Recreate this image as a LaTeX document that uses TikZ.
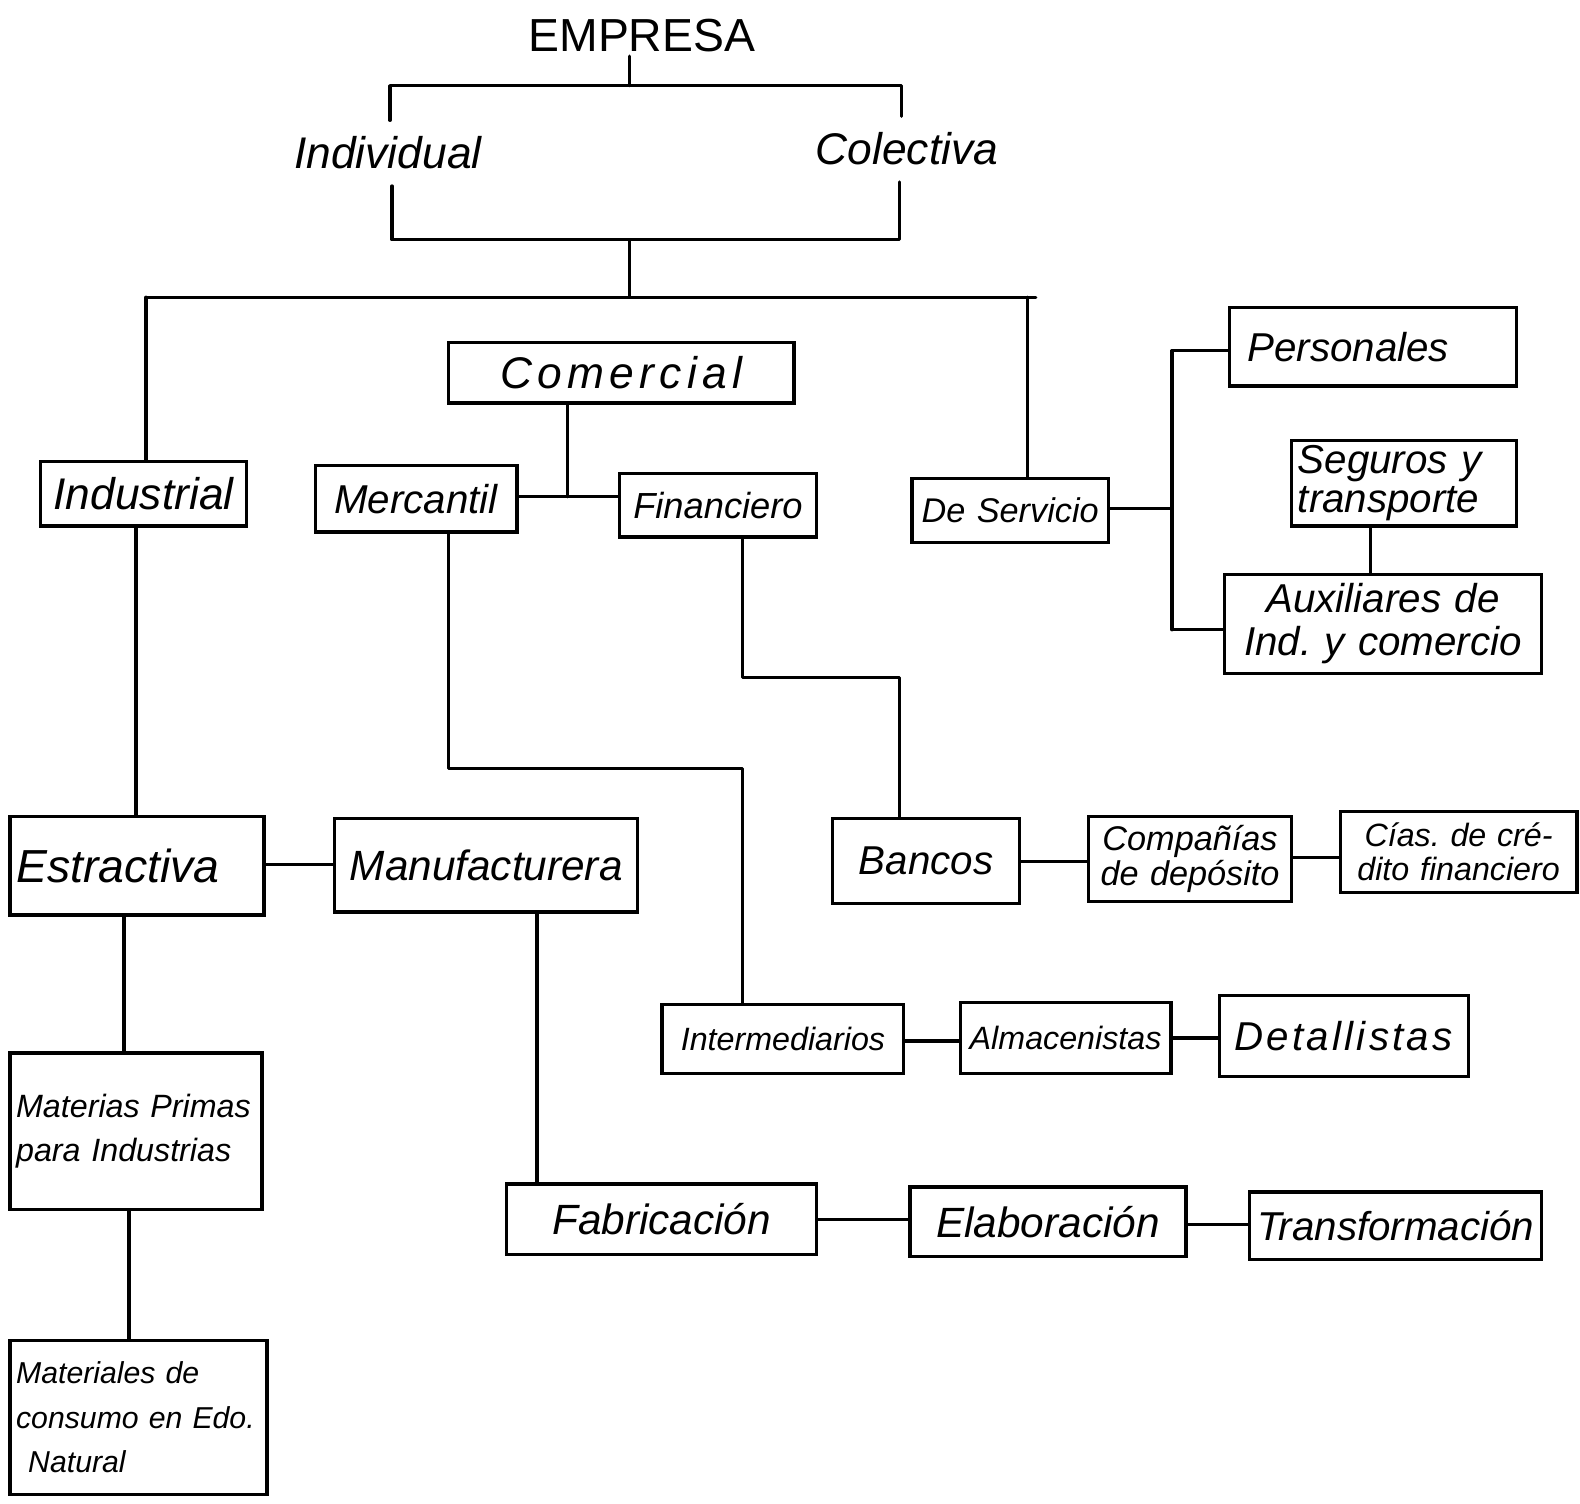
\documentclass[tikz,border=0pt]{standalone}
\usepackage{fontspec}
\setmainfont{Liberation Sans}
\frenchspacing
\newcommand\bx[7][]{\node[box,#1,text width={(#5-#3)*0.5pt-6pt},minimum height={(#6-#4)*0.5pt}] (#2) at ({(#3+#5)/2},{(#4+#6)/2}) {#7};}
\begin{document}
\begin{tikzpicture}[x=0.5pt,y=-0.5pt,
  ln/.style={line width=1.6pt, line cap=round, line join=round},
  box/.style={draw, line width=1.6pt, rectangle, inner xsep=3pt, inner ysep=0pt, align=center},
  fs/.style 2 args={font=\itshape\frenchspacing\fontsize{#1}{#2}\selectfont}]
\useasboundingbox (0,0) rectangle (1568,1492);

% title and first level
\node[font=\fontsize{23}{26}\selectfont, inner sep=2pt] (emp) at (637,35) {EMPRESA};
\node[fs={22}{24}, inner xsep=2pt, inner ysep=8pt] (indiv) at (385,152) {Individual};
\node[fs={22}{24}, inner xsep=2pt, inner ysep=8pt] (colec) at (900,148) {Colectiva};

% boxes
\bx[fs={22}{24}]{ind}{40}{458}{245}{522}{Industrial}
\bx[fs={22}{24}]{com}{445}{340}{788}{400}{{\addfontfeature{LetterSpace=12}Comercial}}
\bx[fs={20}{22}]{merc}{313}{462}{513}{528}{Mercantil}
\bx[fs={18}{20}]{fin}{615}{470}{810}{533}{Financiero}
\bx[fs={17}{19}]{serv}{905}{475}{1100}{538}{De Servicio}
\bx[fs={20}{22},align=left]{pers}{1220}{305}{1505}{383}{\hspace{6pt}Personales}
\bx[fs={20}{19},align=left]{seg}{1282}{437}{1505}{522}{Seguros y\\transporte}
\bx[fs={20}{21}]{aux}{1215}{570}{1530}{668}{Auxiliares de\\Ind. y comercio}
\bx[fs={23}{25},align=left]{estr}{10}{810}{262}{908}{Estractiva}
\bx[fs={21}{23}]{manu}{332}{812}{633}{905}{Manufacturera}
\bx[fs={20}{22}]{banc}{826}{812}{1012}{897}{Bancos}
\bx[fs={17}{17}]{comp}{1080}{810}{1282}{895}{Compañías\\de depósito}
\bx[fs={16}{17}]{cias}{1330}{805}{1565}{886}{Cías. de cré-\\dito financiero}
\bx[fs={16}{18}]{inter}{657}{997}{897}{1065}{Intermediarios}
\bx[fs={16}{18}]{alm}{953}{995}{1162}{1065}{Almacenistas}
\bx[fs={20}{22}]{det}{1210}{988}{1457}{1068}{{\addfontfeature{LetterSpace=8}Detallistas}}
\bx[fs={16}{22},align=left]{mat}{10}{1045}{260}{1200}{Materias Primas\\para Industrias\\[18pt]}
\bx[fs={15}{22},align=left]{mate}{10}{1330}{265}{1483}{Materiales de\\consumo en Edo.\\\hspace{6pt}Natural}
\bx[fs={21}{23}]{fab}{503}{1175}{810}{1245}{Fabricación}
\bx[fs={21}{23}]{elab}{903}{1178}{1177}{1247}{Elaboración}
\bx[fs={20}{22}]{trans}{1240}{1183}{1530}{1250}{Transformación}

% junction coordinates
\coordinate (tm) at (625,85);
\coordinate (tl) at (387,85);
\coordinate (tr) at (895,85);
\coordinate (bl) at (389,238);
\coordinate (br) at (893,238);
\coordinate (bm) at (625,238);
\coordinate (hm) at (625,295);
\coordinate (hl) at (145,295);
\coordinate (hr) at (1028,295);
\coordinate (hs) at (1020,295);
\coordinate (cm) at (563,493);
\coordinate (sv) at (1163,505);
\coordinate (sp) at (1163,348);
\coordinate (sa) at (1163,625);
\coordinate (sg) at (1360,0);
\coordinate (xi) at (135,0);
\coordinate (em) at (0,858);
\coordinate (m1) at (445,763);
\coordinate (m2) at (737,763);
\coordinate (f1) at (737,672);
\coordinate (f2) at (893,672);
\coordinate (bc) at (0,855);
\coordinate (cc) at (0,851);
\coordinate (xe) at (123,0);
\coordinate (xm) at (128,0);
\coordinate (xf) at (533,0);
\coordinate (yf) at (0,1210);
\coordinate (ye) at (0,1215);
\coordinate (yi) at (0,1033);
\coordinate (ya) at (0,1030);

% connectors
\draw[ln] (emp.south -| tm) -- (tm);
\draw[ln] (indiv.north -| tl) -- (tl) -- (tr) -- (colec.north -| tr);
\draw[ln] (indiv.south -| bl) -- (bl) -- (br) -- (colec.south -| br);
\draw[ln] (bm) -- (hm);
\draw[ln] (hl) -- (hr);
\draw[ln] (hl) -- (ind.north -| hl);
\draw[ln] (hs) -- (serv.north -| hs);
\draw[ln] (com.south -| cm) -- (cm);
\draw[ln] (merc.east |- cm) -- (fin.west |- cm);
\draw[ln] (serv.east |- sv) -- (sv);
\draw[ln] (sp) -- (sa);
\draw[ln] (sp) -- (pers.west |- sp);
\draw[ln] (sa) -- (aux.west |- sa);
\draw[ln] (seg.south -| sg) -- (aux.north -| sg);
\draw[ln] (ind.south -| xi) -- (estr.north -| xi);
\draw[ln] (estr.east |- em) -- (manu.west |- em);
\draw[ln] (merc.south -| m1) -- (m1) -- (m2) -- (inter.north -| m2);
\draw[ln] (fin.south -| f1) -- (f1) -- (f2) -- (banc.north -| f2);
\draw[ln] (banc.east |- bc) -- (comp.west |- bc);
\draw[ln] (comp.east |- cc) -- (cias.west |- cc);
\draw[ln] (estr.south -| xe) -- (mat.north -| xe);
\draw[ln] (mat.south -| xm) -- (mate.north -| xm);
\draw[ln] (manu.south -| xf) -- (fab.north -| xf);
\draw[ln] (fab.east |- yf) -- (elab.west |- yf);
\draw[ln] (elab.east |- ye) -- (trans.west |- ye);
\draw[ln] (inter.east |- yi) -- (alm.west |- yi);
\draw[ln] (alm.east |- ya) -- (det.west |- ya);
\end{tikzpicture}
\end{document}
